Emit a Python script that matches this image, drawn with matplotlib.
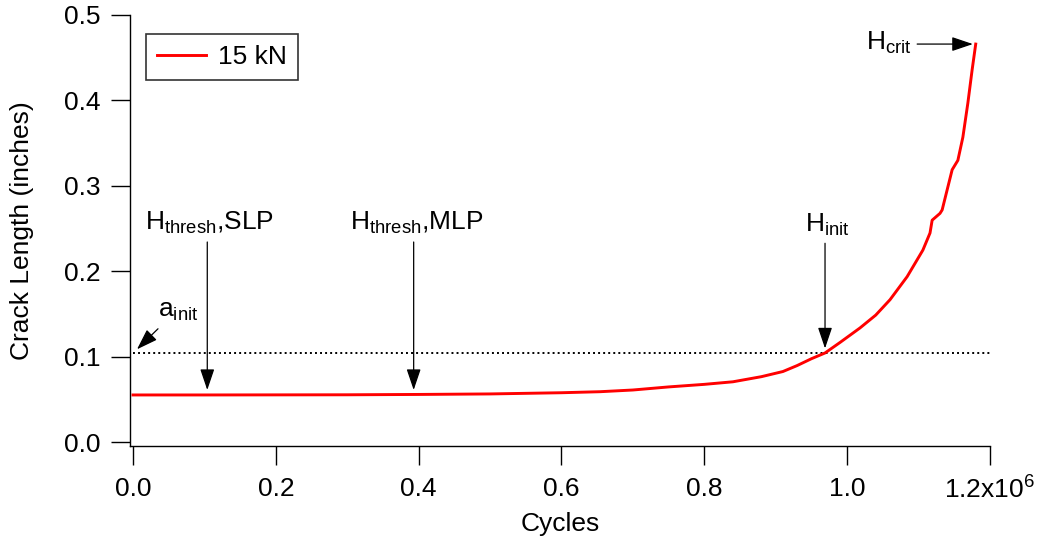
import matplotlib
matplotlib.use("Agg")
import matplotlib.pyplot as plt

plt.rcParams['font.family'] = ['Liberation Sans', 'DejaVu Sans']
plt.rcParams['mathtext.fontset'] = 'custom'
plt.rcParams['mathtext.rm'] = 'Liberation Sans'
plt.rcParams['mathtext.it'] = 'Liberation Sans'

# ---- data ----
cycles = [0, 0.1e6, 0.2e6, 0.3e6, 0.4e6, 0.5e6, 0.6e6, 0.654e6, 0.7e6, 0.75e6,
          0.8e6, 0.84e6, 0.88e6, 0.91e6, 0.93e6, 0.95e6, 0.969e6, 0.99e6,
          1.018e6, 1.04e6, 1.06e6, 1.084e6, 1.106e6, 1.116e6, 1.119e6, 1.13e6,
          1.133e6, 1.147e6, 1.155e6, 1.162e6, 1.169e6, 1.175e6, 1.18e6]
crack = [0.0556, 0.0556, 0.0557, 0.0558, 0.0562, 0.0568, 0.0582, 0.0594, 0.0614,
         0.065, 0.068, 0.071, 0.077, 0.083, 0.090, 0.098, 0.1047, 0.117,
         0.134, 0.149, 0.167, 0.194, 0.225, 0.245, 0.26, 0.268,
         0.272, 0.319, 0.33, 0.357, 0.397, 0.436, 0.466]
series_label = "15 kN"
a_init = 0.105

x_ticks = [0, 0.2e6, 0.4e6, 0.6e6, 0.8e6, 1.0e6, 1.2e6]
x_tick_labels = ["0.0", "0.2", "0.4", "0.6", "0.8", "1.0", r"1.2x10$^{6}$"]
y_ticks = [0.0, 0.1, 0.2, 0.3, 0.4, 0.5]
y_tick_labels = ["0.0", "0.1", "0.2", "0.3", "0.4", "0.5"]

# annotations: label, text position, arrow tail, arrow tip
ann_labels = [r"H$_{\mathregular{thresh}}$,SLP", r"H$_{\mathregular{thresh}}$,MLP",
              r"H$_{\mathregular{init}}$", r"a$_{\mathregular{init}}$",
              r"H$_{\mathregular{crit}}$"]
ann_text_xy = [(0.0168e6, 0.2485), (0.304e6, 0.2485), (0.941e6, 0.246),
               (0.035e6, 0.147), (1.026e6, 0.459)]
ann_tail = [(0.104e6, 0.2345), (0.393e6, 0.2345), (0.969e6, 0.233),
            (0.035e6, 0.133), (1.098e6, 0.466)]
ann_tip = [(0.104e6, 0.0614), (0.393e6, 0.0614), (0.969e6, 0.110),
           (0.0056e6, 0.109), (1.176e6, 0.466)]

FS = 19

W, H = 1038, 544
fig = plt.figure(figsize=(W / 100, H / 100), dpi=100)
ax = fig.add_axes([130 / W, (H - 446) / H, (990 - 130) / W, (446 - 15) / H])

ax.plot(cycles, crack, color="#ff0000", lw=2.1, label=series_label, zorder=3)
ax.plot([0, 1.2e6], [a_init, a_init], color="black", lw=1.4,
        linestyle=(0, (1.0, 1.6)), zorder=2)

ax.set_xlim(-4200, 1.2e6)
ax.set_ylim(-0.0041, 0.5)

ax.set_xticks(x_ticks)
ax.set_xticklabels(x_tick_labels)
ax.set_yticks(y_ticks)
ax.set_yticklabels(y_tick_labels)

for s in ["top", "right"]:
    ax.spines[s].set_visible(False)
for s in ["left", "bottom"]:
    ax.spines[s].set_linewidth(1.0)
ax.tick_params(axis="both", direction="out", length=14, width=1.0,
               labelsize=FS, colors="black")
ax.tick_params(axis="x", pad=8)
ax.tick_params(axis="y", pad=7)

ax.set_xlabel("Cycles", fontsize=FS)
ax.set_ylabel("Crack Length (inches)", fontsize=FS)
ax.xaxis.set_label_coords(0.5, -0.152)
ax.yaxis.set_label_coords(-0.112, 0.5)

for lab, txy, tail, tip in zip(ann_labels, ann_text_xy, ann_tail, ann_tip):
    ax.text(txy[0], txy[1], lab, fontsize=FS, ha="left", va="baseline")
    ax.annotate("", xy=tip, xytext=tail,
                arrowprops=dict(arrowstyle="-|>,head_length=0.65,head_width=0.22",
                                color="black", lw=0.9, shrinkA=0, shrinkB=0,
                                mutation_scale=20))

leg = ax.legend(loc="upper left", bbox_to_anchor=((146 - 130) / 860, (446 - 34) / 431),
                fontsize=FS, frameon=True, fancybox=False, handlelength=1.85,
                handletextpad=0.45, borderpad=0.42, borderaxespad=0)
leg.get_frame().set_edgecolor("black")
leg.get_frame().set_linewidth(1.2)

fig.savefig("out.png", dpi=100)
